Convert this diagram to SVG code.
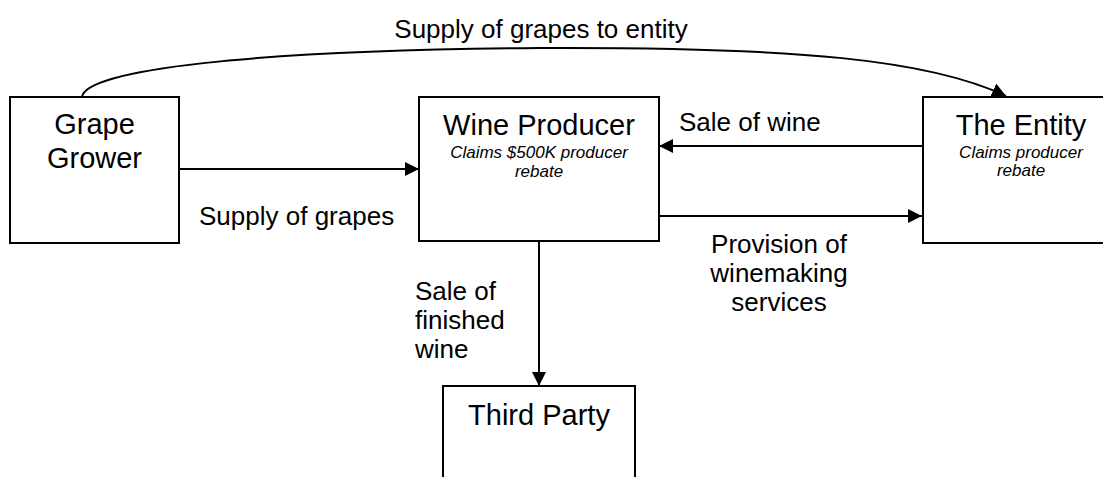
<svg xmlns="http://www.w3.org/2000/svg" width="1103" height="477" viewBox="0 0 1103 477">
<style>
.box{fill:#fff;stroke:#000;stroke-width:2}
.t{font-family:"Liberation Sans",Arial,sans-serif;font-size:29px;fill:#000;text-anchor:middle}
.s{font-family:"Liberation Sans",Arial,sans-serif;font-size:17px;font-style:italic;fill:#000;text-anchor:middle}
.l{font-family:"Liberation Sans",Arial,sans-serif;font-size:26px;fill:#000}
.c{fill:none;stroke:#000;stroke-width:2;marker-end:url(#ah)}
</style>
<defs>
<marker id="ah" markerUnits="userSpaceOnUse" markerWidth="16" markerHeight="16" refX="14" refY="7" orient="auto">
<path d="M0,0 L14,7 L0,14 z" fill="#000"/>
</marker>
</defs>
<g id="grape-grower">
<rect class="box" x="10" y="97" width="169" height="146"/>
<text class="t" x="94.5" y="134">Grape</text>
<text class="t" x="94.5" y="168">Grower</text>
</g>
<g id="wine-producer">
<rect class="box" x="419" y="97" width="240" height="144"/>
<text class="t" x="539" y="135">Wine Producer</text>
<text class="s" x="539" y="158">Claims $500K producer</text>
<text class="s" x="539" y="177">rebate</text>
</g>
<g id="the-entity">
<rect class="box" x="923" y="97" width="196" height="146"/>
<text class="t" x="1021" y="135">The Entity</text>
<text class="s" x="1021" y="158">Claims producer</text>
<text class="s" x="1021" y="176">rebate</text>
</g>
<g id="third-party">
<rect class="box" x="443" y="386" width="192" height="110"/>
<text class="t" x="539" y="425">Third Party</text>
</g>
<g id="connectors">
<path class="c" d="M82,97 C85,70 250,50 540,48 C800,47 930,60 1006,96"/>
<path class="c" d="M179,169 L419,169"/>
<path class="c" d="M923,146 L659,146"/>
<path class="c" d="M659,216 L922,216"/>
<path class="c" d="M539,241 L539,386"/>
<text class="l" x="541" y="38" text-anchor="middle">Supply of grapes to entity</text>
<text class="l" x="199" y="225">Supply of grapes</text>
<text class="l" x="679" y="131">Sale of wine</text>
<text class="l" x="779" y="253" text-anchor="middle">Provision of</text>
<text class="l" x="779" y="282" text-anchor="middle">winemaking</text>
<text class="l" x="779" y="311" text-anchor="middle">services</text>
<text class="l" x="415" y="300">Sale of</text>
<text class="l" x="415" y="329">finished</text>
<text class="l" x="415" y="358">wine</text>
</g>
</svg>
